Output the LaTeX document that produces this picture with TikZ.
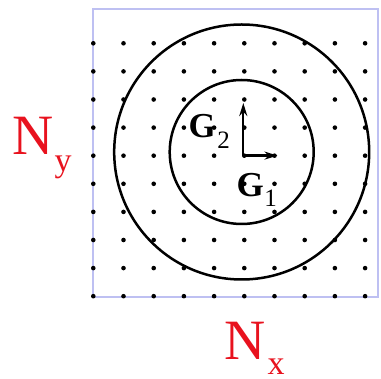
\documentclass[tikz,border=0pt]{standalone}
\usepackage{fontspec}
\setmainfont{Liberation Serif}
\usetikzlibrary{arrows.meta}
\definecolor{boxblue}{RGB}{190,192,242}
\definecolor{nred}{RGB}{232,18,30}
\tikzset{
  frame/.style={draw=boxblue,line width=1.7pt},
  ring/.style={draw=black,line width=2.5pt},
  lattice/.style={fill=black},
  vec/.style={draw=black,line width=2.2pt,-{Stealth[length=13pt,width=8pt]}},
  glabel/.style={inner sep=0pt,anchor=base west,font=\fontsize{35}{35}\selectfont\bfseries},
  nlabel/.style={inner sep=0pt,anchor=base west,text=nred,font=\fontsize{57}{57}\selectfont}
}
\begin{document}
\begin{tikzpicture}[x=1pt,y=-1pt]
\useasboundingbox (0,0) rectangle (381,379);
\draw[frame] (93.3,9.3) rectangle (378,297);
\foreach \i in {0,...,9}
  \foreach \j in {0,...,9}
    \fill[lattice] ({93.3+30.2*\i},{43.3+28.1*\j}) circle (2.3pt);
\coordinate (C) at (241.7,152);
\draw[ring] (C) circle (127.5pt);
\draw[ring] (C) circle (72pt);
\coordinate (O) at (243.3,155.6);
\coordinate (g1end) at (277.5,155.6);
\coordinate (g2end) at (243.3,103);
\draw[vec] (O) -- (g1end);
\draw[vec] (O) -- (g2end);
\node[glabel] (G2) at (188.4,137.5) {G\kern1.5pt\raisebox{-11pt}{\fontsize{25}{25}\selectfont\mdseries 2}};
\node[glabel] (G1) at (236.4,196.5) {G\kern0.5pt\raisebox{-10.5pt}{\fontsize{25}{25}\selectfont\mdseries 1}};
\node[nlabel] (Ny) at (12.3,155) {N\kern1pt\raisebox{-16.5pt}{\fontsize{34}{34}\selectfont y}};
\node[nlabel] (Nx) at (224.2,359.5) {N\kern2pt\raisebox{-15pt}{\fontsize{34}{34}\selectfont x}};
\end{tikzpicture}
\end{document}
